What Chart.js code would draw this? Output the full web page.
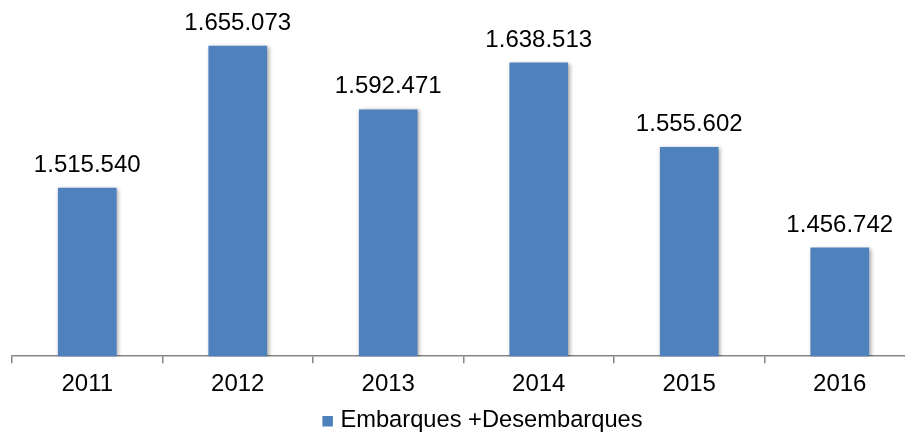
<!DOCTYPE html>
<html>
<head>
<meta charset="utf-8">
<script src="https://cdn.jsdelivr.net/npm/chart.js@4.4.1/dist/chart.umd.min.js"></script>
<style>
  html, body { margin: 0; padding: 0; background: #fff; overflow: hidden; }
  #wrap { width: 915px; height: 432px; }
</style>
</head>
<body>
<div id="wrap"><canvas id="movChart"></canvas></div>
<script>
// Passengers per year
const years = ['2011', '2012', '2013', '2014', '2015', '2016'];
const movements = [1515540, 1655073, 1592471, 1638513, 1555602, 1456742];
const seriesName = 'Embarques +Desembarques';

const barColor = '#4F81BD';
const fontFamily = '"Liberation Sans", Arial, sans-serif';

// 1515540 -> "1.515.540"
function fmt(n) {
  return String(n).replace(/\B(?=(\d{3})+(?!\d))/g, '.');
}

// soft shadow around the bars
const barShadow = {
  id: 'barShadow',
  beforeDatasetsDraw(chart) {
    const ctx = chart.ctx;
    ctx.save();
    ctx.shadowColor = 'rgba(0,0,0,0.35)';
    ctx.shadowBlur = 4;
    ctx.shadowOffsetX = 1.5;
    ctx.shadowOffsetY = 1;
  },
  afterDatasetsDraw(chart) {
    chart.ctx.restore();
  }
};

// value labels above each bar
const valueLabels = {
  id: 'valueLabels',
  afterDatasetsDraw(chart) {
    const ctx = chart.ctx;
    const meta = chart.getDatasetMeta(0);
    ctx.save();
    ctx.font = '24px ' + fontFamily;
    ctx.fillStyle = '#000';
    ctx.textAlign = 'center';
    ctx.textBaseline = 'alphabetic';
    meta.data.forEach((bar, i) => {
      ctx.fillText(fmt(movements[i]), bar.x, bar.y - 16);
    });
    ctx.restore();
  }
};

// legend under the axis: small square + series name
const seriesLegend = {
  id: 'seriesLegend',
  afterDraw(chart) {
    const ctx = chart.ctx;
    const area = chart.chartArea;
    const label = chart.data.datasets[0].label;
    ctx.save();
    ctx.font = '23.7px ' + fontFamily;
    const box = 10.5, gap = 7.5;
    const total = box + gap + ctx.measureText(label).width;
    const left = (area.left + area.right) / 2 + 19 - total / 2;
    const baseY = 427;
    ctx.fillStyle = chart.data.datasets[0].backgroundColor;
    ctx.fillRect(left, baseY - 11, box, box);
    ctx.fillStyle = '#000';
    ctx.textAlign = 'left';
    ctx.textBaseline = 'alphabetic';
    ctx.fillText(label, left + box + gap, baseY);
    ctx.restore();
  }
};

new Chart(document.getElementById('movChart'), {
  type: 'bar',
  data: {
    labels: years,
    datasets: [{
      label: seriesName,
      data: movements,
      backgroundColor: barColor,
      borderWidth: 0,
      categoryPercentage: 1,
      barPercentage: 0.39
    }]
  },
  plugins: [barShadow, valueLabels, seriesLegend],
  options: {
    responsive: true,
    maintainAspectRatio: false,
    animation: false,
    layout: { padding: { left: 12, right: 0, top: 0, bottom: 26 } },
    scales: {
      x: {
        offset: true,
        border: { display: true, color: '#868686', width: 1.5 },
        grid: {
          display: true,
          drawOnChartArea: false,
          drawTicks: true,
          tickLength: 7,
          color: '#868686',
          lineWidth: 1.5,
          offset: true
        },
        ticks: {
          color: '#000',
          padding: 7,
          font: { family: fontFamily, size: 24 }
        }
      },
      y: {
        display: false,
        min: 1350000,
        max: 1700000
      }
    },
    plugins: {
      legend: { display: false },
      tooltip: { enabled: false }
    }
  }
});
</script>
</body>
</html>
